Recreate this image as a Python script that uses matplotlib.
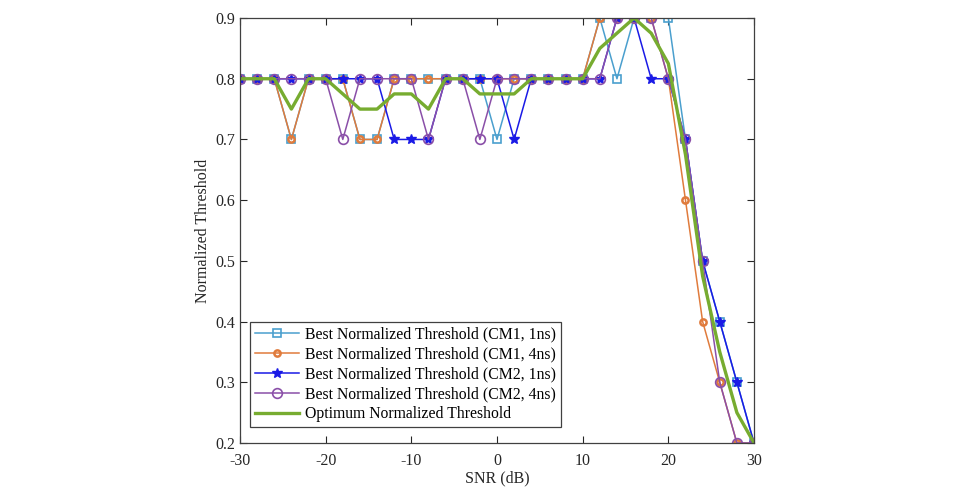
import matplotlib
matplotlib.use("Agg")
import matplotlib.pyplot as plt

plt.rcParams['font.family'] = ['Liberation Serif', 'DejaVu Serif']
plt.rcParams['axes.unicode_minus'] = False

snr = list(range(-30, 31, 2))

# best thresholds per channel model / pulse width
cm1_1ns = [0.8, 0.8, 0.8, 0.7, 0.8, 0.8, 0.8, 0.7, 0.7, 0.8, 0.8, 0.8, 0.8, 0.8, 0.8, 0.7,
           0.8, 0.8, 0.8, 0.8, 0.8, 0.9, 0.8, 0.9, 0.9, 0.9, 0.7, 0.5, 0.4, 0.3, 0.2]
cm1_4ns = [0.8, 0.8, 0.8, 0.7, 0.8, 0.8, 0.8, 0.7, 0.7, 0.8, 0.8, 0.8, 0.8, 0.8, 0.8, 0.8,
           0.8, 0.8, 0.8, 0.8, 0.8, 0.9, 0.9, 0.9, 0.9, 0.8, 0.6, 0.4, 0.3, 0.2, 0.2]
cm2_1ns = [0.8, 0.8, 0.8, 0.8, 0.8, 0.8, 0.8, 0.8, 0.8, 0.7, 0.7, 0.7, 0.8, 0.8, 0.8, 0.8,
           0.7, 0.8, 0.8, 0.8, 0.8, 0.8, 0.9, 0.9, 0.8, 0.8, 0.7, 0.5, 0.4, 0.3, 0.2]
cm2_4ns = [0.8, 0.8, 0.8, 0.8, 0.8, 0.8, 0.7, 0.8, 0.8, 0.8, 0.8, 0.7, 0.8, 0.8, 0.7, 0.8,
           0.8, 0.8, 0.8, 0.8, 0.8, 0.8, 0.9, 0.9, 0.9, 0.8, 0.7, 0.5, 0.3, 0.2, 0.2]
optimum = [0.8, 0.8, 0.8, 0.75, 0.8, 0.8, 0.775, 0.75, 0.75, 0.775, 0.775, 0.75, 0.8, 0.8,
           0.775, 0.775, 0.775, 0.8, 0.8, 0.8, 0.8, 0.85, 0.875, 0.9, 0.875, 0.825, 0.675,
           0.475, 0.35, 0.25, 0.2]

labels = ['Best Normalized Threshold (CM1, 1ns)',
          'Best Normalized Threshold (CM1, 4ns)',
          'Best Normalized Threshold (CM2, 1ns)',
          'Best Normalized Threshold (CM2, 4ns)',
          'Optimum Normalized Threshold']

fig = plt.figure(figsize=(9.63, 4.9), dpi=100)
ax = fig.add_axes([0.2492, 0.0959, 0.5338, 0.8673])

ax.plot(snr, cm1_1ns, color='#4a9fce', lw=1.1, marker='s', ms=5.5, mfc='none', mew=1.2, label=labels[0])
ax.plot(snr, cm1_4ns, color='#e07b3c', lw=1.1, marker='o', ms=4.5, mfc='none', mew=1.8, label=labels[1])
ax.plot(snr, cm2_1ns, color='#1a1ae6', lw=1.1, marker='*', ms=7, label=labels[2])
ax.plot(snr, cm2_4ns, color='#8a4fa8', lw=1.1, marker='o', ms=7, mfc='none', mew=1.2, label=labels[3])
ax.plot(snr, optimum, color='#77ac30', lw=2.4, label=labels[4])

ax.set_xlim(-30, 30)
ax.set_ylim(0.2, 0.9)
ax.set_xticks(range(-30, 31, 10))
ax.set_yticks([0.2, 0.3, 0.4, 0.5, 0.6, 0.7, 0.8, 0.9])
ax.tick_params(direction='in', top=True, right=True, labelsize=11.5, colors='#262626', length=5)
ax.tick_params(axis='x', pad=7)
for s in ax.spines.values():
    s.set_color('#404040')
    s.set_linewidth(0.9)

ax.set_xlabel('SNR (dB)', fontsize=11.5, color='#262626', labelpad=1)
ax.set_ylabel('Normalized Threshold', fontsize=11.5, color='#262626', labelpad=3)

leg = ax.legend(loc='lower left', bbox_to_anchor=(10 / 514, 16 / 425), borderaxespad=0,
                fontsize=11.3, handlelength=2.8, handletextpad=0.4, labelspacing=0.25,
                borderpad=0.3, fancybox=False, framealpha=1)
leg.get_frame().set_edgecolor('#404040')
leg.get_frame().set_linewidth(0.9)

fig.savefig('out.png', dpi=100)
